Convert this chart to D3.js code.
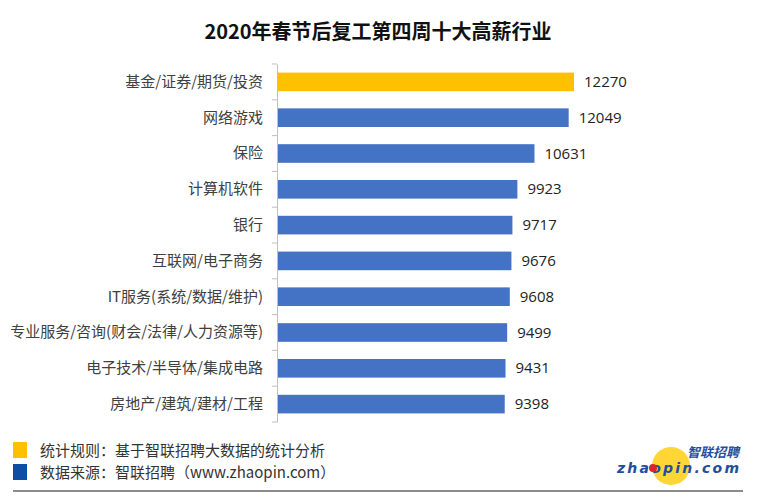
<!DOCTYPE html>
<html><head><meta charset="utf-8">
<script src="https://cdn.jsdelivr.net/npm/d3@7"></script>
<style>body{margin:0;background:#fff}svg{display:block}</style>
</head><body>
<svg id="c" width="757" height="500"></svg>
<script>
const title = "2020年春节后复工第四周十大高薪行业";
const categories = ["基金/证券/期货/投资","网络游戏","保险","计算机软件","银行","互联网/电子商务","IT服务(系统/数据/维护)","专业服务/咨询(财会/法律/人力资源等)","电子技术/半导体/集成电路","房地产/建筑/建材/工程"];
const values = [12270,12049,10631,9923,9717,9676,9608,9499,9431,9398];
const legendItems = ["统计规则：基于智联招聘大数据的统计分析","数据来源：智联招聘（www.zhaopin.com）"];
const legendColors = ["#FFC000","#0E4DA4"];

const svg = d3.select("#c");
const cjk = "'Noto Sans CJK SC','Noto Sans',sans-serif";

svg.append("text").attr("x",378).attr("y",39).attr("text-anchor","middle")
  .attr("font-family",cjk).attr("font-weight","bold").attr("font-size",20).attr("fill","#111")
  .text(title);

const x = d3.scaleLinear().domain([0,12270]).range([278,574]);
const y = d3.scaleBand().domain(categories).range([64,422]).paddingInner(0.48).paddingOuter(0.24);

const yAxis = d3.axisLeft(y).tickSize(0).tickPadding(14);
const gA = svg.append("g").attr("transform","translate(277,0)").call(yAxis);
gA.select(".domain").attr("stroke","#bfbfbf");
gA.selectAll("text").attr("font-family",cjk).attr("font-size",15).attr("fill","#404040");
const bounds = categories.map(c=>y(c)-y.step()*y.paddingInner()/2).concat([422]);
svg.append("g").selectAll("line").data(bounds).join("line")
  .attr("x1",272).attr("x2",277).attr("y1",d=>d).attr("y2",d=>d).attr("stroke","#bfbfbf");

svg.append("g").selectAll("rect").data(values).join("rect")
  .attr("x",x(0)).attr("y",(d,i)=>y(categories[i]))
  .attr("width",d=>x(d)-x(0)).attr("height",y.bandwidth())
  .attr("fill",(d,i)=>i===0?"#FFC000":"#4472C4");

svg.append("g").selectAll("text").data(values).join("text")
  .attr("x",d=>x(d)+10).attr("y",(d,i)=>y(categories[i])+y.bandwidth()/2+5)
  .attr("font-family","'Open Sans',Lato,sans-serif").attr("font-size",15).attr("fill","#222")
  .text(d=>d);

const lg = svg.append("g");
legendItems.forEach((t,i)=>{
  lg.append("rect").attr("x",13).attr("y",442+i*22).attr("width",14).attr("height",16).attr("fill",legendColors[i]);
  lg.append("text").attr("x",40).attr("y",456+i*22).attr("font-family",cjk).attr("font-size",15)
    .attr("fill","#333").text(t);
});

svg.append("line").attr("x1",13).attr("x2",743).attr("y1",491).attr("y2",491).attr("stroke","#666").attr("stroke-width",1.5);

const logo = svg.append("g");
logo.append("circle").attr("cx",671).attr("cy",466).attr("r",19).attr("fill","#FFD21F").attr("opacity",0.9);
logo.append("text").attr("x",739).attr("y",457).attr("text-anchor","end").attr("font-family",cjk)
  .attr("font-weight","bold").attr("font-style","italic").attr("font-size",13).attr("fill","#1F4E9E").text("智联招聘");
logo.append("text").attr("x",739).attr("y",473).attr("text-anchor","end").attr("font-family","'DejaVu Sans',sans-serif")
  .attr("font-weight","bold").attr("font-style","italic").attr("font-size",14).attr("fill","#1F4E9E").attr("textLength",122)
  .text("zhaopin.com");
logo.append("circle").attr("cx",653).attr("cy",468).attr("r",4).attr("fill","#D62828");
</script>
</body></html>
